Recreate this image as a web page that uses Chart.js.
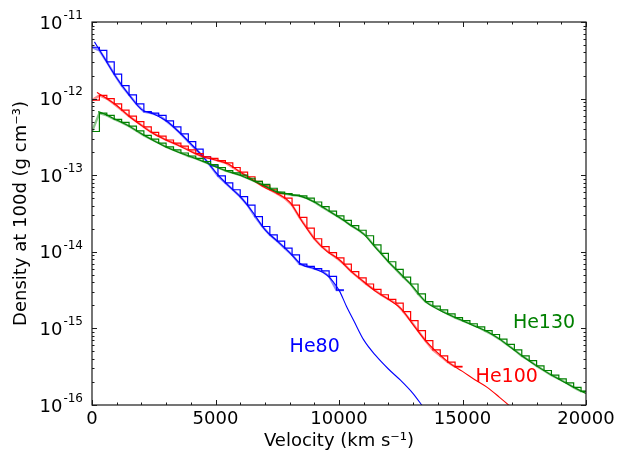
<!DOCTYPE html>
<html>
<head>
<meta charset="utf-8">
<script src="https://cdn.jsdelivr.net/npm/chart.js@4"></script>
<style>
  html, body { margin: 0; padding: 0; background: #fff; }
  #wrap { width: 623px; height: 452px; }
</style>
</head>
<body>
<div id="wrap"><canvas id="c"></canvas></div>
<script>
// Bin edges (km/s) of the binned model profiles
const stepVelocity = [0,300,600,900,1200,1500,1800,2100,2400,2700,3000,3300,3600,3900,4200,4500,4800,5100,5400,5700,6000,6300,6600,6900,7200,7500,7800,8100,8400,8700,9000,9300,9600,9900,10200,10500,10800,11100,11400,11700,12000,12300,12600,12900,13200,13500,13800,14100,14400,14700,15000,15300,15600,15900,16200,16500,16800,17100,17400,17700,18000,18300,18600,18900,19200,19500,19800,20000];

// He80: binned density (one value per bin edge, last one closes the final bin)
const he80Step = [4.68e-12,4.27e-12,3.02e-12,2.09e-12,1.48e-12,1.12e-12,8.51e-13,6.76e-13,6.46e-13,6.03e-13,5.13e-13,4.27e-13,3.47e-13,2.75e-13,2.19e-13,1.74e-13,1.32e-13,9.77e-14,7.94e-14,6.46e-14,5.25e-14,4.07e-14,2.88e-14,2.14e-14,1.66e-14,1.38e-14,1.12e-14,9.12e-15,6.92e-15,6.46e-15,6.03e-15,5.62e-15,4.79e-15,3.16e-15,3.16e-15];
// He100: binned density
const he100Step = [9.55e-13,1.10e-12,1.00e-12,8.51e-13,7.08e-13,5.89e-13,5.01e-13,4.27e-13,3.63e-13,3.24e-13,2.88e-13,2.63e-13,2.40e-13,2.14e-13,1.91e-13,1.74e-13,1.66e-13,1.55e-13,1.45e-13,1.26e-13,1.10e-13,9.55e-14,8.32e-14,7.24e-14,6.46e-14,5.75e-14,5.01e-14,4.07e-14,2.82e-14,2.04e-14,1.48e-14,1.17e-14,9.77e-15,8.32e-15,6.92e-15,5.50e-15,4.57e-15,3.80e-15,3.24e-15,2.75e-15,2.40e-15,2.14e-15,1.66e-15,1.26e-15,9.33e-16,6.92e-16,5.25e-16,4.37e-16,3.63e-16,3.16e-16,3.16e-16];
// He130: binned density
const he130Step = [3.72e-13,6.46e-13,6.03e-13,5.37e-13,4.90e-13,4.37e-13,3.80e-13,3.31e-13,2.95e-13,2.63e-13,2.34e-13,2.14e-13,1.95e-13,1.78e-13,1.66e-13,1.51e-13,1.38e-13,1.26e-13,1.15e-13,1.07e-13,1.00e-13,9.12e-14,8.32e-14,7.59e-14,6.76e-14,6.03e-14,5.75e-14,5.50e-14,5.37e-14,5.01e-14,4.47e-14,3.89e-14,3.39e-14,2.95e-14,2.57e-14,2.19e-14,1.91e-14,1.62e-14,1.23e-14,9.55e-15,7.41e-15,5.89e-15,4.68e-15,3.80e-15,2.82e-15,2.24e-15,1.95e-15,1.74e-15,1.55e-15,1.38e-15,1.26e-15,1.15e-15,1.05e-15,9.33e-16,8.32e-16,7.24e-16,6.17e-16,5.25e-16,4.37e-16,3.80e-16,3.24e-16,2.82e-16,2.45e-16,2.19e-16,1.95e-16,1.70e-16,1.51e-16,1.51e-16];

// Continuous hydrodynamic profiles
const he80Velocity  = [100,500,1000,1500,2000,2500,3000,3500,4000,4500,5000,5500,6000,6500,7000,7500,8000,8500,9000,9500,10000,10300,10600,11000,11500,12000,12500,13000,13400];
const he80Density   = [5.50e-12,3.39e-12,1.86e-12,1.12e-12,7.24e-13,6.31e-13,5.13e-13,3.72e-13,2.57e-13,1.74e-13,1.10e-13,7.41e-14,5.25e-14,3.31e-14,1.95e-14,1.38e-14,9.77e-15,6.76e-15,6.03e-15,5.01e-15,3.16e-15,1.95e-15,1.26e-15,7.08e-16,4.37e-16,2.95e-16,2.09e-16,1.41e-16,9.5e-17];
const he100Velocity = [200,500,1000,1500,2000,2500,3000,3500,4000,4500,5000,5500,6000,6500,7000,7500,8000,8500,9000,9500,10000,10500,11000,11500,12000,12500,13000,13500,14000,14500,15000,15500,16000,16500,16900];
const he100Density  = [1.20e-12,1.05e-12,8.13e-13,5.89e-13,4.47e-13,3.47e-13,2.88e-13,2.45e-13,2.04e-13,1.74e-13,1.58e-13,1.41e-13,1.10e-13,8.71e-14,6.92e-14,5.75e-14,4.47e-14,2.51e-14,1.48e-14,1.02e-14,7.94e-15,5.50e-15,4.07e-15,3.02e-15,2.40e-15,1.82e-15,1.12e-15,6.92e-16,4.79e-16,3.47e-16,2.75e-16,2.14e-16,1.70e-16,1.26e-16,9.8e-17];
const he130Velocity = [250,500,1000,1500,2000,2500,3000,3500,4000,4500,5000,5500,6000,6500,7000,7500,8000,8500,9000,9500,10000,10500,11000,11500,12000,12500,13000,13500,14000,14500,15000,15500,16000,16500,17000,17500,18000,18500,19000,19500,20000];
const he130Density  = [6.76e-13,6.31e-13,5.25e-13,4.37e-13,3.47e-13,2.82e-13,2.34e-13,2.00e-13,1.74e-13,1.51e-13,1.29e-13,1.12e-13,1.00e-13,8.51e-14,7.24e-14,6.03e-14,5.62e-14,5.25e-14,4.47e-14,3.55e-14,2.82e-14,2.19e-14,1.70e-14,1.12e-14,7.41e-15,5.13e-15,3.47e-15,2.24e-15,1.78e-15,1.48e-15,1.26e-15,1.07e-15,9.12e-16,7.24e-16,5.50e-16,4.17e-16,3.24e-16,2.57e-16,2.09e-16,1.70e-16,1.41e-16];

// Axis ticks
const xTickValues = [0, 5000, 10000, 15000, 20000];
const xMinorTickValues = [1000,2000,3000,4000,6000,7000,8000,9000,11000,12000,13000,14000,16000,17000,18000,19000];
const yTickExponents = [-16, -15, -14, -13, -12, -11];

// Model names placed next to their curves: [text, velocity, density, colour]
const curveLabels = [
  ['He80', 8000, 4.9e-16, '#0000ff'],
  ['He100', 15530, 2.0e-16, '#ff0000'],
  ['He130', 17040, 1.0e-15, '#008000']
];

const BLUE = '#0000ff', RED = '#ff0000', GREEN = '#008000';
const FONT = 'DejaVu Sans';

function pts(xs, ys) { return ys.map((v, i) => ({ x: xs[i], y: v })); }

// Binned profile: a translucent polyline through the bin values plus the dark staircase
function stepPair(values, color, light) {
  const data = pts(stepVelocity, values);
  return [
    { data, borderColor: light, borderWidth: 2.4, pointRadius: 0, fill: false },
    { data, borderColor: color, borderWidth: 1.2, stepped: 'before', pointRadius: 0, fill: false }
  ];
}

function smooth(xs, ys, color) {
  return { data: pts(xs, ys), borderColor: color, borderWidth: 1.1, pointRadius: 0,
           cubicInterpolationMode: 'monotone', fill: false };
}

const decorations = {
  id: 'decorations',
  afterDraw(chart) {
    const { ctx, chartArea: a, scales: { x, y } } = chart;
    ctx.save();
    // frame
    ctx.strokeStyle = '#1a1a1a';
    ctx.lineWidth = 1.2;
    ctx.strokeRect(a.left, a.top, a.right - a.left, a.bottom - a.top);

    // inward ticks on all four sides
    ctx.lineWidth = 1;
    const vtick = (px, len) => {
      ctx.beginPath();
      ctx.moveTo(px, a.bottom); ctx.lineTo(px, a.bottom - len);
      ctx.moveTo(px, a.top); ctx.lineTo(px, a.top + len);
      ctx.stroke();
    };
    const htick = (py, len) => {
      ctx.beginPath();
      ctx.moveTo(a.left, py); ctx.lineTo(a.left + len, py);
      ctx.moveTo(a.right, py); ctx.lineTo(a.right - len, py);
      ctx.stroke();
    };
    xTickValues.forEach(v => vtick(Math.round(x.getPixelForValue(v)) + 0.5, 5));
    xMinorTickValues.forEach(v => vtick(Math.round(x.getPixelForValue(v)) + 0.5, 2.5));
    yTickExponents.forEach(e => htick(Math.round(y.getPixelForValue(Math.pow(10, e))) + 0.5, 5));
    yTickExponents.slice(0, -1).forEach(e => {
      for (let m = 2; m <= 9; m++) htick(Math.round(y.getPixelForValue(m * Math.pow(10, e))) + 0.5, 2.5);
    });

    // tick labels
    ctx.fillStyle = '#000';
    ctx.textBaseline = 'alphabetic';
    ctx.font = `18px "${FONT}"`;
    ctx.textAlign = 'center';
    xTickValues.forEach(v => ctx.fillText(String(v), x.getPixelForValue(v), a.bottom + 19));

    yTickExponents.forEach(e => {
      const py = y.getPixelForValue(Math.pow(10, e));
      const base = '10', exp = String(e);
      ctx.font = `12px "${FONT}"`;
      const ew = ctx.measureText(exp).width;
      ctx.font = `18px "${FONT}"`;
      const bw = ctx.measureText(base).width;
      const right = a.left - 9;
      ctx.textAlign = 'left';
      ctx.fillText(base, right - ew - bw - 1, py + 6.5);
      ctx.font = `12px "${FONT}"`;
      ctx.fillText(exp, right - ew, py - 3.3);
    });

    // model names
    ctx.font = `19px "${FONT}"`;
    ctx.textAlign = 'left';
    curveLabels.forEach(([t, vx, vy, c]) => {
      ctx.fillStyle = c;
      ctx.fillText(t, x.getPixelForValue(vx), y.getPixelForValue(vy));
    });
    ctx.restore();
  }
};

Chart.defaults.font.family = FONT;

new Chart(document.getElementById('c'), {
  type: 'line',
  data: {
    datasets: [
      ...stepPair(he130Step, GREEN, 'rgba(0,128,0,0.45)'),
      smooth(he130Velocity, he130Density, GREEN),
      ...stepPair(he100Step, RED, 'rgba(255,0,0,0.45)'),
      smooth(he100Velocity, he100Density, RED),
      ...stepPair(he80Step, BLUE, 'rgba(0,0,255,0.45)'),
      smooth(he80Velocity, he80Density, BLUE)
    ]
  },
  options: {
    responsive: true,
    maintainAspectRatio: false,
    animation: false,
    layout: { padding: { left: 0, right: 37, top: 22, bottom: 0 } },
    plugins: { legend: { display: false }, tooltip: { enabled: false } },
    scales: {
      x: {
        type: 'linear', min: 0, max: 20000,
        grid: { display: false }, border: { display: false },
        ticks: { display: false },
        title: { display: true, text: 'Velocity (km s\u207B\u00B9)', color: '#000',
                 font: { size: 18, family: FONT }, padding: { top: 0, bottom: 0 } },
        afterFit(s) { s.height = 47; }
      },
      y: {
        type: 'logarithmic', min: 1e-16, max: 1e-11,
        grid: { display: false }, border: { display: false },
        ticks: { display: false },
        title: { display: true, text: 'Density at 100d (g cm\u207B\u00B3)', color: '#000',
                 font: { size: 18, family: FONT }, padding: { top: 11, bottom: 0 } },
        afterFit(s) { s.width = 92; }
      }
    }
  },
  plugins: [decorations]
});
</script>
</body>
</html>
